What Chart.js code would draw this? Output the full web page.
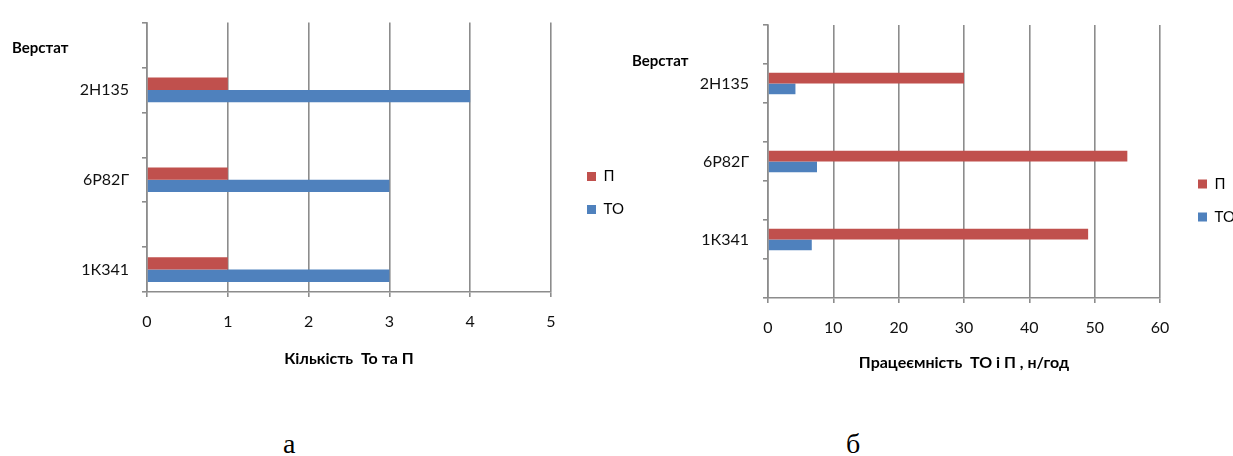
<!DOCTYPE html>
<html><head><meta charset="utf-8">
<script src="https://cdn.jsdelivr.net/npm/chart.js@4.4.0/dist/chart.umd.min.js"></script>
<style>
html,body{margin:0;padding:0;background:#fff;width:1233px;height:456px;overflow:hidden;position:relative;}
canvas{position:absolute;top:0;}
#cA{left:0;}
#cB{left:620px;}
.lbl{position:absolute;font-family:Lato;font-weight:bold;font-size:15px;line-height:15px;color:#000;white-space:nowrap;}
.cap{position:absolute;font-family:'Liberation Serif';font-size:28px;line-height:28px;color:#000;}
</style></head><body>
<canvas id="cA" width="640" height="380"></canvas>
<canvas id="cB" width="630" height="380"></canvas>
<div class="lbl" style="left:12px;top:40px">Верстат</div>
<div class="lbl" style="left:632px;top:53px">Верстат</div>
<div class="cap" style="left:283px;top:430px">а</div>
<div class="cap" style="left:846px;top:430px">б</div>
<script>
// ---- data ----
const seriesNames = ['П', 'ТО'];
const seriesColors = ['#C0504D', '#4F81BD'];

const categoriesA = ['', '2Н135', '', '6Р82Г', '', '1К341'];
const countP  = [null, 1, null, 1, null, 1];
const countTO = [null, 4, null, 3, null, 3];
const xTicksA = [0, 1, 2, 3, 4, 5];
const titleA = 'Кількість  То та П';

const categoriesB = ['', '2Н135', '', '6Р82Г', '', '1К341', ''];
const laborP  = [null, 30, null, 55, null, 49, null];
const laborTO = [null, 4.2, null, 7.5, null, 6.7, null];
const xTicksB = [0, 10, 20, 30, 40, 50, 60];
const titleB = 'Працеємність  ТО і П , н/год';

Chart.defaults.font.family = 'Lato';
Chart.defaults.font.size = 15;
Chart.defaults.color = '#111';

const GRID = '#8c8c8c';

function makeChart(id, cats, pVals, toVals, ticks, title, L) {
  const ctx = document.getElementById(id);
  return new Chart(ctx, {
    type: 'bar',
    data: {
      labels: cats,
      datasets: [
        { label: seriesNames[0], data: pVals, backgroundColor: seriesColors[0], borderWidth: 0 },
        { label: seriesNames[1], data: toVals, backgroundColor: seriesColors[1], borderWidth: 0 }
      ]
    },
    options: {
      indexAxis: 'y',
      responsive: false,
      devicePixelRatio: 1,
      animation: false,
      categoryPercentage: 0.55,
      barPercentage: 1.0,
      layout: { padding: { top: L.top, bottom: L.bottomPad, left: 0, right: 0 } },
      plugins: {
        tooltip: { enabled: false },
        legend: {
          position: 'right', align: 'center',
          labels: { boxWidth: 9, boxHeight: 9, padding: 18, color: '#000', font: { size: 15 } }
        }
      },
      scales: {
        x: {
          type: 'linear', position: 'bottom',
          min: ticks[0], max: ticks[ticks.length - 1],
          afterBuildTicks: s => { s.ticks = ticks.map(v => ({ value: v })); },
          ticks: { padding: 15, color: '#111', font: { size: 16 } },
          grid: { color: GRID, lineWidth: 1.6, tickLength: 5, drawTicks: true },
          border: { color: GRID, width: 1.6 },
          title: { display: true, text: title, color: '#000', font: { size: 16, weight: 'bold' }, padding: { top: 0, bottom: L.titlePad } },
          afterFit: s => { s.height = L.H - L.bottomPad - L.bottom; s.paddingRight = L.W - L.right; s.paddingLeft = 0; }
        },
        y: {
          type: 'category', position: 'left', offset: true,
          ticks: { padding: L.yPad, color: '#111', font: { size: 16 } },
          grid: { offset: true, drawOnChartArea: false, color: GRID, lineWidth: 1.6, tickLength: 5 },
          border: { color: GRID, width: 1.6 },
          afterFit: s => { s.width = L.left; }
        },
        gap: {
          type: 'linear', axis: 'y', position: 'right', display: true,
          grid: { display: false }, ticks: { display: false }, border: { display: false },
          afterFit: s => { s.width = L.gap; }
        }
      }
    }
  });
}

makeChart('cA', categoriesA, countP, countTO, xTicksA, titleA,
  { W: 640, H: 380, left: 147, top: 15, right: 551, bottom: 292, bottomPad: 9, titlePad: 3, gap: 18, yPad: 13 });
makeChart('cB', categoriesB, laborP, laborTO, xTicksB, titleB,
  { W: 630, H: 380, left: 148, top: 25, right: 540, bottom: 298, bottomPad: 4, titlePad: 4, gap: 20, yPad: 14 });
</script>
</body></html>
